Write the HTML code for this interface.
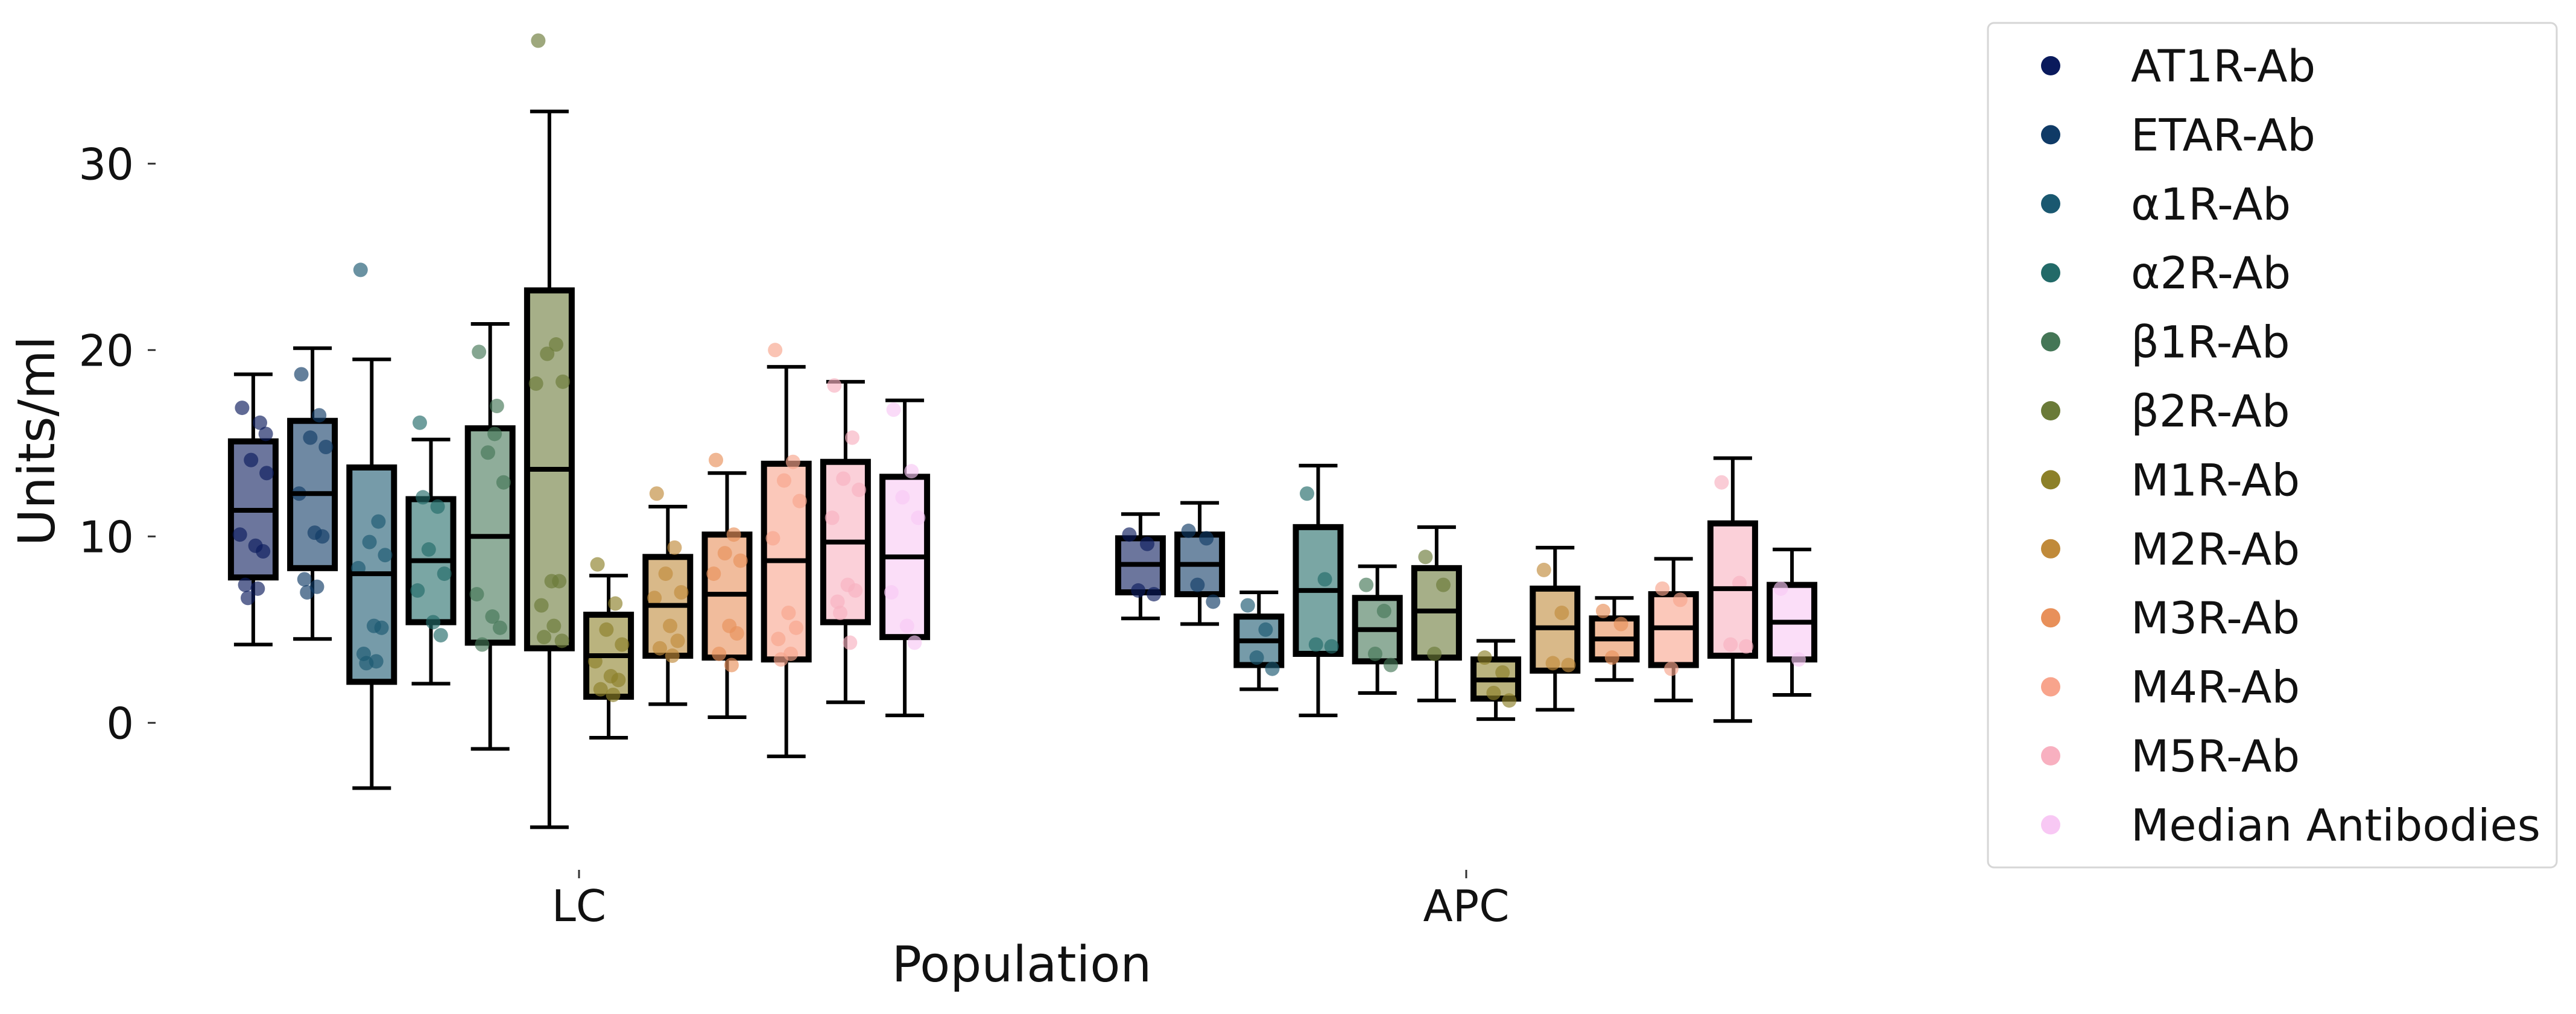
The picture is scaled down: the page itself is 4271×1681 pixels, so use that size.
<!DOCTYPE html>
<html><head><meta charset="utf-8"><style>
html,body{margin:0;padding:0;background:#fff;}
svg{display:block;font-family:"DejaVu Sans","Liberation Sans",sans-serif;}
</style></head><body>
<svg id="chart" width="4271" height="1681" viewBox="0 0 4271 1681" xmlns="http://www.w3.org/2000/svg">
<g id="axes"></g>
<g id="boxes"></g>
<g id="legend"></g>
</svg>
<script>
const populations = ["LC", "APC"];
const series = ["AT1R-Ab","ETAR-Ab","α1R-Ab","α2R-Ab","β1R-Ab","β2R-Ab","M1R-Ab","M2R-Ab","M3R-Ab","M4R-Ab","M5R-Ab","Median Antibodies"];
const colors = ["#0a1a5c","#0f3a66","#1a5870","#226a68","#447656","#6a7a38","#8c8028","#c08a3a","#e8905a","#f8a48c","#f8b0c0","#f8c8f4"];
const yTicks = [0, 10, 20, 30];
// [low whisker, Q1, median, Q3, high whisker]
const statsLC = [
 [4.2,7.8,11.4,15.1,18.7],[4.5,8.3,12.3,16.2,20.1],[-3.5,2.2,8.0,13.7,19.5],[2.1,5.4,8.7,12.0,15.2],
 [-1.4,4.3,10.0,15.8,21.4],[-5.6,4.0,13.6,23.2,32.8],[-0.8,1.4,3.6,5.8,7.9],[1.0,3.6,6.3,8.9,11.6],
 [0.3,3.5,6.9,10.1,13.4],[-1.8,3.4,8.7,13.9,19.1],[1.1,5.4,9.7,14.0,18.3],[0.4,4.6,8.9,13.2,17.3]];
const statsAPC = [
 [5.6,7.0,8.5,9.9,11.2],[5.3,6.9,8.5,10.1,11.8],[1.8,3.1,4.4,5.7,7.0],[0.4,3.7,7.1,10.5,13.8],
 [1.6,3.3,5.0,6.7,8.4],[1.2,3.5,6.0,8.3,10.5],[0.2,1.3,2.3,3.4,4.4],[0.7,2.8,5.1,7.2,9.4],
 [2.3,3.4,4.5,5.6,6.7],[1.2,3.1,5.1,6.9,8.8],[0.1,3.6,7.2,10.7,14.2],[1.5,3.4,5.4,7.4,9.3]];
const pointsLC = [
 [16.9,16.1,14.1,13.4,10.1,9.5,9.2,7.4,7.2,6.7,15.5],[18.7,16.5,15.3,14.8,12.3,10.2,10.0,7.7,7.3,7.0],
 [24.3,10.8,9.7,9.0,8.3,5.2,5.1,3.7,3.3,3.2],[16.1,11.6,9.3,8.0,7.1,5.4,4.7,12.1],
 [19.9,17.0,14.5,12.9,6.9,5.7,5.1,4.2,15.5],[36.6,20.3,19.8,18.3,18.2,7.6,7.6,6.3,5.2,4.6,4.4],
 [8.5,6.4,5.0,4.2,3.3,2.5,2.3,1.8,1.5],[12.3,9.4,8.0,7.0,6.7,5.2,4.4,4.0,3.6],
 [14.1,10.1,9.1,8.7,8.0,5.2,4.8,3.7,3.1],[20.0,14.0,13.0,11.9,9.9,5.9,5.1,4.5,3.7,3.4],
 [18.1,15.3,13.1,12.5,11.0,7.4,7.1,6.5,4.3,5.9],[16.8,13.5,12.1,11.0,7.0,5.2,4.3]];
const pointsAPC = [
 [10.1,9.6,7.1,6.9],[10.3,9.9,7.4,6.5],[6.3,5.0,3.5,2.9],[12.3,7.7,4.2,4.1],[7.4,6.0,3.7,3.1],[8.9,7.4,3.7],
 [3.5,2.7,1.6,1.2],[8.2,5.9,3.2,3.1],[6.0,5.3,3.5],[7.2,6.6,2.9],[12.9,7.5,4.2,4.1],[7.2,3.4]];

const NS = "http://www.w3.org/2000/svg";
function mk(tag, attrs, parent){const e=document.createElementNS(NS,tag);for(const k in attrs)e.setAttribute(k,attrs[k]);parent.appendChild(e);return e;}
const yScale = v => 1198.3 - 30.9*v;
const groupCenter = [960, 2431];
const step = 98.2;
const xScale = (g,i) => groupCenter[g] + (i-5.5)*step;
const boxW = 74, capW = 64;
const jit = [-0.25,0.15,-0.05,0.3,-0.3,0.05,0.22,-0.18,0.1,-0.12,0.28];

const axes = document.getElementById('axes');
yTicks.forEach(t=>{
  const y=yScale(t);
  const tk=mk('line',{x1:245,x2:258,y1:y,y2:y,stroke:'#333','stroke-width':3},axes);
  
  
  const lb=mk('text',{x:222,y:y+26,'text-anchor':'end','font-size':72,fill:'#111'},axes);
  lb.textContent=String(t);
  
  
});
populations.forEach((p,g)=>{
  const tk=mk('line',{x1:groupCenter[g],x2:groupCenter[g],y1:1442,y2:1456,stroke:'#333','stroke-width':3},axes);
  
  
  const lb=mk('text',{x:groupCenter[g],y:1527,'text-anchor':'middle','font-size':72,fill:'#111'},axes);
  lb.textContent=p;
  
  
});
const yt=mk('text',{x:0,y:0,'text-anchor':'middle','font-size':84,fill:'#111',transform:'translate(90,731) rotate(-90)'},axes);
yt.textContent='Units/ml';


const xt=mk('text',{x:1694,y:1627,'text-anchor':'middle','font-size':82,fill:'#111'},axes);
xt.textContent='Population';



const boxes=document.getElementById('boxes');
[statsLC,statsAPC].forEach((stats,g)=>{
  const pts = g===0?pointsLC:pointsAPC;
  stats.forEach((s,i)=>{
    const cx=xScale(g,i);
    const grp=mk('g',{},boxes);
    
    
    mk('line',{x1:cx,x2:cx,y1:yScale(s[0]),y2:yScale(s[1]),stroke:'#000','stroke-width':6},grp);
    mk('line',{x1:cx,x2:cx,y1:yScale(s[3]),y2:yScale(s[4]),stroke:'#000','stroke-width':6},grp);
    mk('line',{x1:cx-capW/2,x2:cx+capW/2,y1:yScale(s[0]),y2:yScale(s[0]),stroke:'#000','stroke-width':6},grp);
    mk('line',{x1:cx-capW/2,x2:cx+capW/2,y1:yScale(s[4]),y2:yScale(s[4]),stroke:'#000','stroke-width':6},grp);
    mk('rect',{x:cx-boxW/2,y:yScale(s[3]),width:boxW,height:yScale(s[1])-yScale(s[3]),fill:colors[i],'fill-opacity':0.6,stroke:'#000','stroke-width':10},grp);
    pts[i].forEach((v,k)=>{
      const c=mk('circle',{cx:cx+jit[k%jit.length]*boxW,cy:yScale(v),r:12,fill:colors[i],'fill-opacity':0.65},grp);
      
      
    });
    mk('line',{x1:cx-boxW/2,x2:cx+boxW/2,y1:yScale(s[2]),y2:yScale(s[2]),stroke:'#000','stroke-width':8},grp);
  });
});

const legend=document.getElementById('legend');
const fr=mk('rect',{x:3296,y:38,width:943,height:1400,rx:10,fill:'#fff',stroke:'#d6d6d6','stroke-width':3},legend);


series.forEach((name,i)=>{
  const y=109+i*114.4;
  const eg=mk('g',{},legend);
  
  
  mk('circle',{cx:3400,cy:y,r:16,fill:colors[i]},eg);
  const t=mk('text',{x:3533,y:y+26,'font-size':73.5,fill:'#111'},eg);
  t.textContent=name;
});
</script>
</body></html>
